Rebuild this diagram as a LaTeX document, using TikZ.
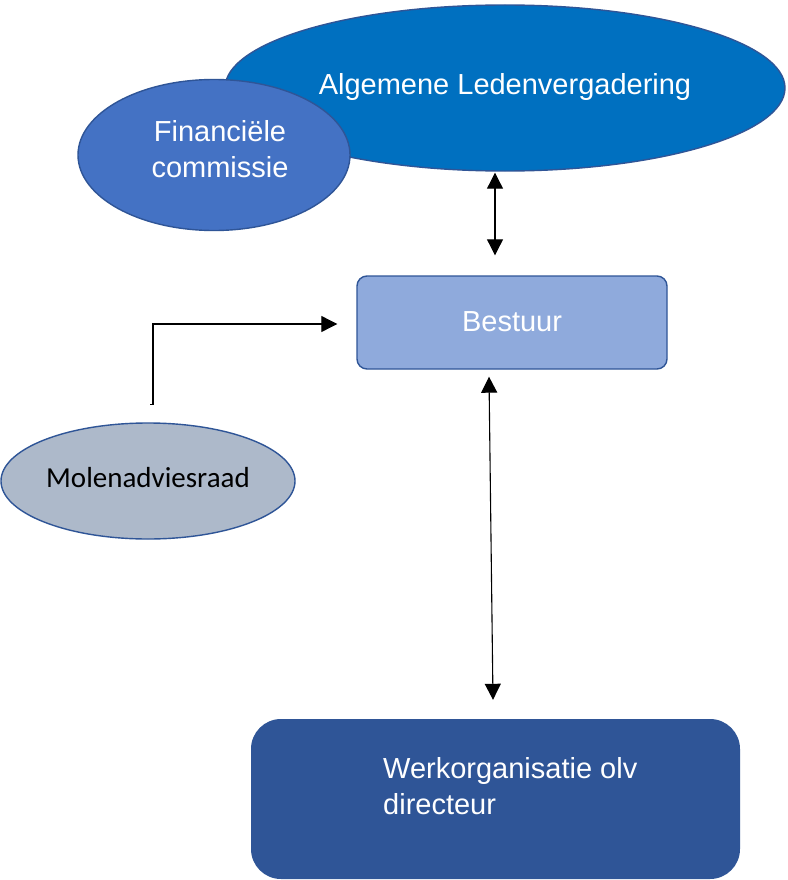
\documentclass[tikz,border=0pt]{standalone}
\usepackage{fontspec}
\setmainfont{Liberation Sans}
\newfontfamily\calib{Carlito}
\usetikzlibrary{arrows.meta,calc,shapes.geometric}
\definecolor{alvblue}{HTML}{0070C0}
\definecolor{darkblue}{HTML}{2F5597}
\definecolor{finblue}{HTML}{4472C4}
\definecolor{bstblue}{HTML}{8FAADC}
\definecolor{molgray}{HTML}{ADB9CA}
\tikzset{
  bigtext/.style={font=\fontsize{29}{36}\selectfont},
  oval/.style={ellipse, draw=darkblue, line width=1.4pt, inner sep=0pt, bigtext},
  conn/.style={line width=1.1pt, -{Triangle[length=16pt,width=16pt]}},
  dbl/.style={line width=1.1pt, {Triangle[length=16pt,width=16pt]}-{Triangle[length=16pt,width=16pt]}},
}
\begin{document}
\begin{tikzpicture}[x=1pt,y=-1pt]
\useasboundingbox (0,0) rectangle (787,880);
\fill[white] (0,0) rectangle (787,880);
% Algemene Ledenvergadering
\node[oval, fill=alvblue, text=white, minimum width=560pt, minimum height=166pt,
      text depth=0pt] (alv) at (505,88) {\raisebox{8pt}{Algemene Ledenvergadering}};
% Financiele commissie
\node[oval, fill=finblue, minimum width=272pt, minimum height=151pt] (fin) at (214,155) {};
\node[inner sep=0pt, align=center, text=white, bigtext] (fintext) at (220,149.5)
      {Financiële\\commissie};
% Bestuur
\node[draw=darkblue, fill=bstblue, line width=1.4pt, rounded corners=10pt,
      minimum width=310pt, minimum height=93pt, inner sep=0pt, text=white, bigtext]
      (bst) at (512,322.5) {\raisebox{2pt}{Bestuur}};
% Molenadviesraad
\node[oval, fill=molgray, text=black, font=\calib\fontsize{29}{36}\selectfont,
      minimum width=294pt, minimum height=116pt] (mol) at (148,481)
      {\raisebox{8pt}{Molenadviesraad}};
% Werkorganisatie
\node[fill=darkblue, rounded corners=30pt, minimum width=489pt, minimum height=160pt,
      inner sep=0pt] (wo) at (495.5,799) {};
\node[anchor=north west, inner sep=0pt, align=left, text=white, bigtext]
      (wotext) at (383,757) {Werkorganisatie olv\\directeur};
% connectors
\draw[dbl] ($(alv.south)+(-10,1)$) -- ($(bst.north)+(-17,-20)$);
\draw[dbl] ($(bst.south)+(-23,7)$) -- ($(wo.north)+(-2.5,-19)$);
\coordinate (mstart) at ($(mol.north)+(5,-18)$);
\coordinate (mend) at ($(bst.west)+(-19,1.5)$);
\draw[conn] ($(mstart)+(-3,0)$) -- (mstart) |- (mend);
\end{tikzpicture}
\end{document}
